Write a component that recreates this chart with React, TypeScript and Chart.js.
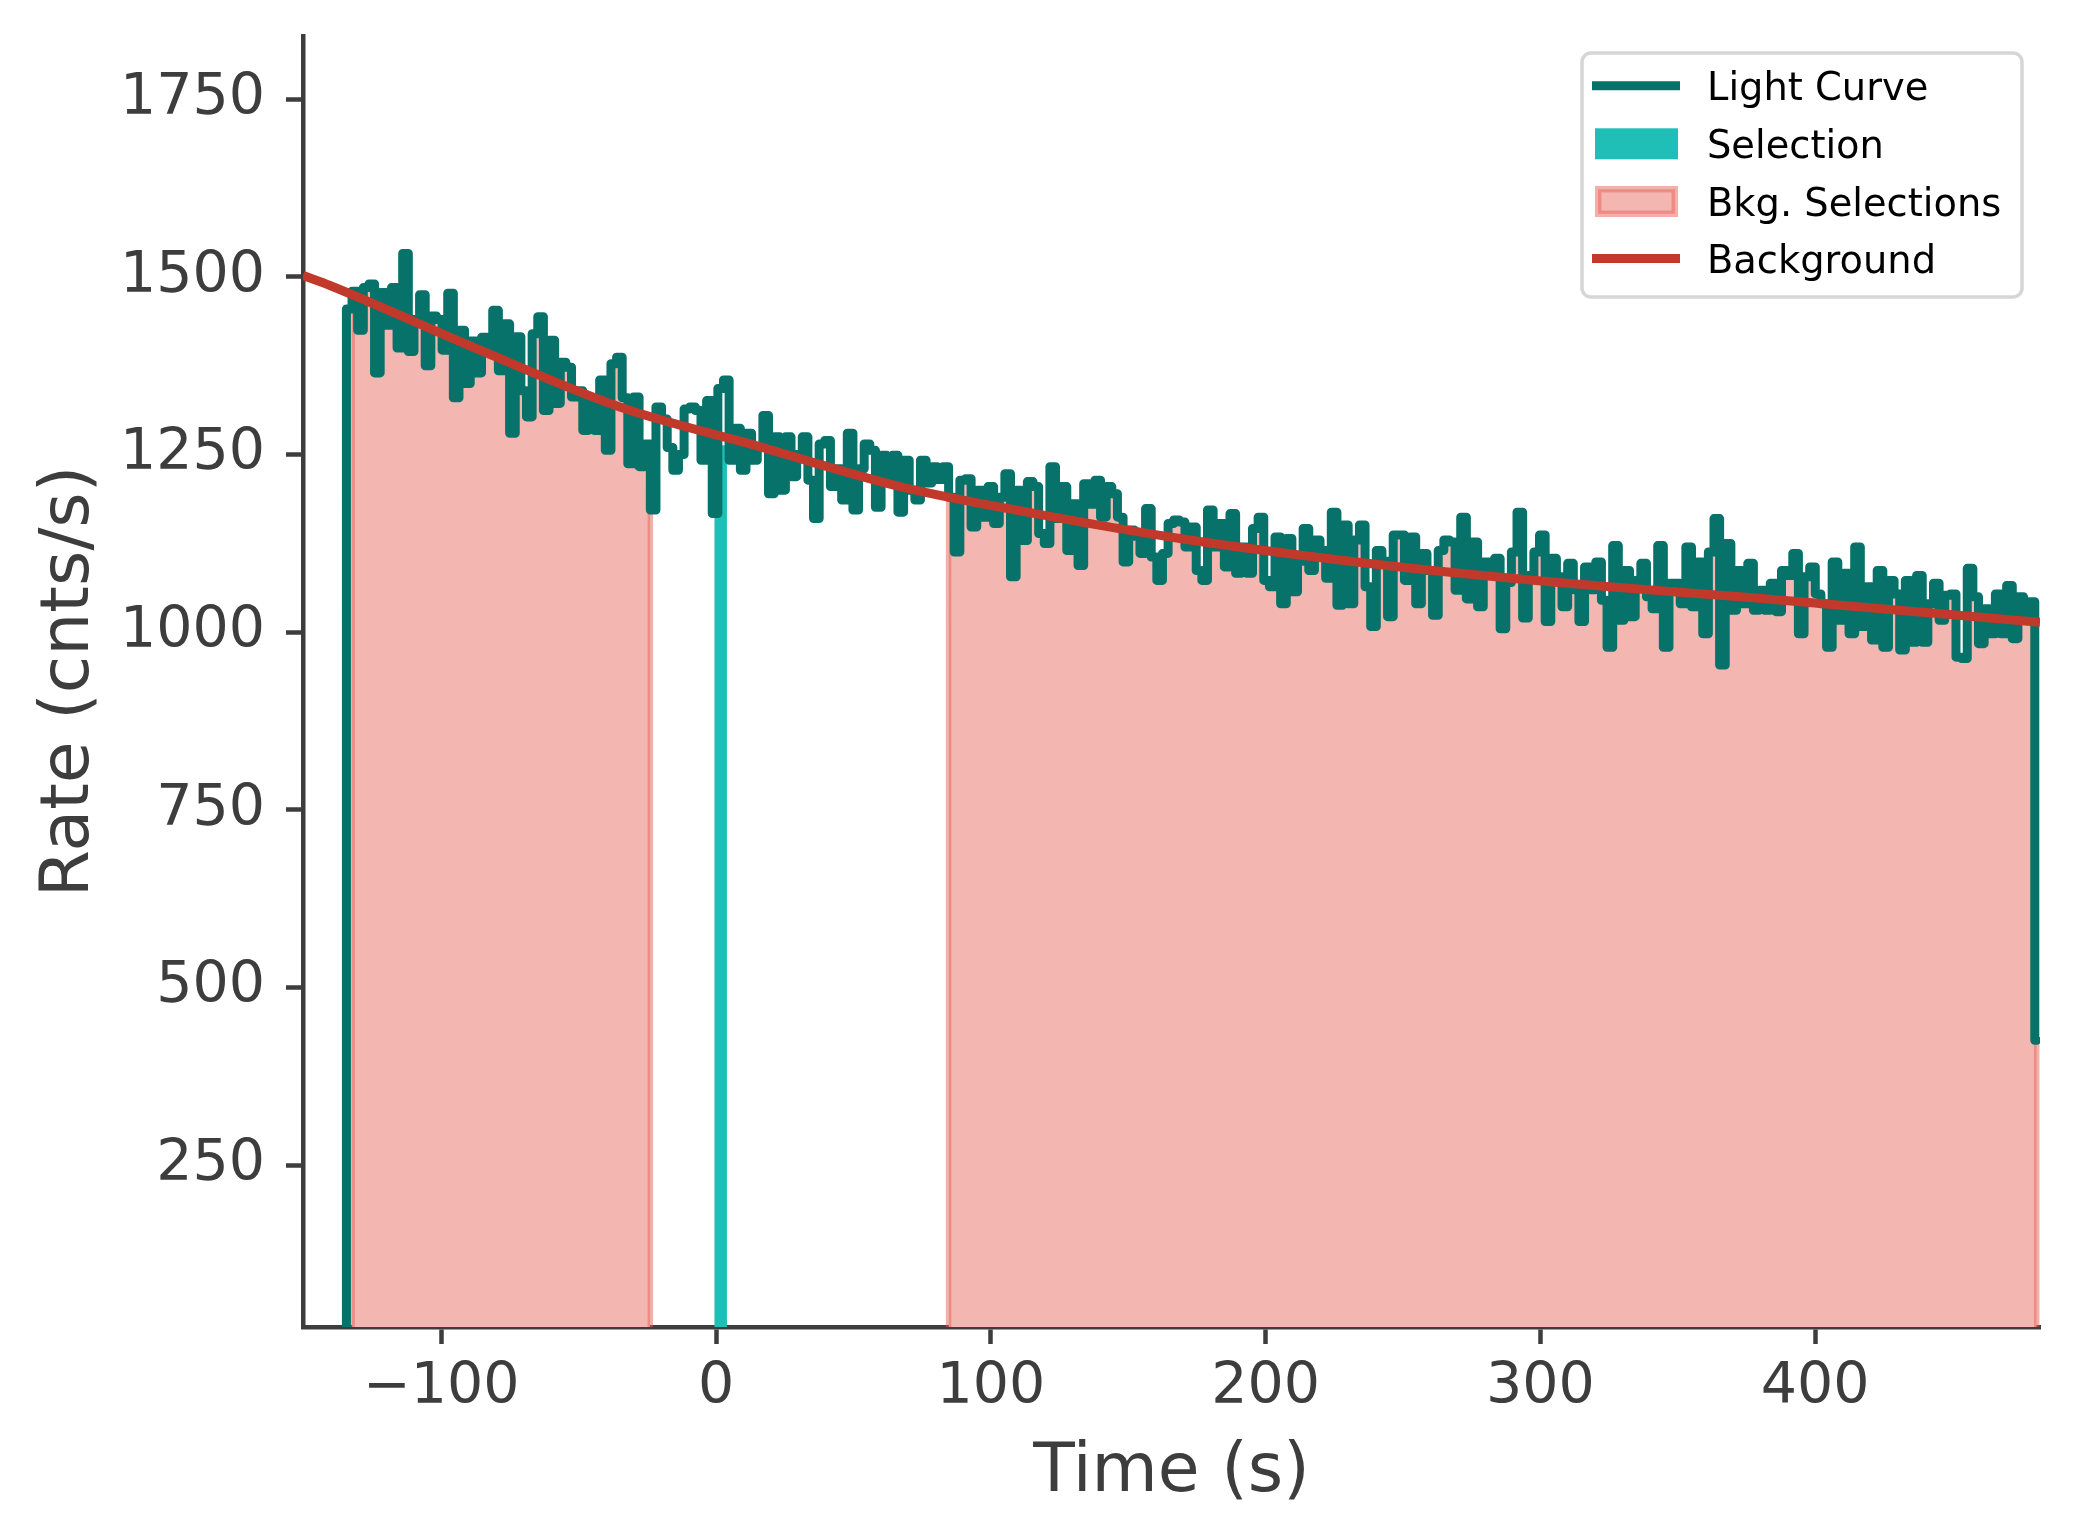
import React, { useEffect, useRef } from "react";
import { Chart, registerables } from "chart.js";

Chart.register(...registerables);

// ---------------- data ----------------
const LC_START = -134.5; // s, left edge of first bin
const BIN_WIDTH = 2.048; // s
const LC_END = 480.6; // s, right edge of last (partial) bin
const LC_FLOOR = 0; // histogram starts from zero

// count rate of each bin (cnts/s)
const LC_RATES = [
  1455, 1480, 1425, 1485, 1490, 1365, 1478, 1432, 1485, 1400,
  1533, 1395, 1440, 1475, 1375, 1445, 1440, 1397, 1477, 1330,
  1425, 1350, 1410, 1365, 1415, 1400, 1453, 1368, 1434, 1280,
  1416, 1340, 1303, 1420, 1444, 1312, 1411, 1322, 1380, 1373,
  1331, 1340, 1284, 1322, 1284, 1355, 1256, 1378, 1387, 1330,
  1237, 1331, 1233, 1265, 1172, 1317, 1300, 1260, 1228, 1250,
  1314, 1317, 1312, 1242, 1326, 1167, 1343, 1355, 1242, 1287,
  1228, 1280, 1242, 1260, 1305, 1195, 1275, 1200, 1275, 1219,
  1250, 1275, 1214, 1160, 1265, 1270, 1205, 1230, 1186, 1280,
  1172, 1230, 1265, 1256, 1176, 1249, 1215, 1249, 1169, 1242,
  1200, 1186, 1242, 1210, 1233, 1215, 1233, 1190, 1113, 1214,
  1216, 1148, 1200, 1162, 1205, 1153, 1190, 1223, 1078, 1200,
  1129, 1212, 1205, 1139, 1125, 1233, 1160, 1205, 1115, 1181,
  1094, 1209, 1180, 1214, 1162, 1205, 1195, 1162, 1099, 1144,
  1135, 1111, 1174, 1106, 1073, 1111, 1153, 1158, 1155, 1120,
  1148, 1087, 1073, 1172, 1120, 1153, 1092, 1167, 1083, 1120,
  1083, 1146, 1162, 1073, 1064, 1134, 1040, 1132, 1057, 1100,
  1146, 1087, 1130, 1115, 1076, 1169, 1038, 1151, 1040, 1130,
  1151, 1064, 1008, 1115, 1100, 1022, 1137, 1137, 1073, 1134,
  1040, 1111, 1087, 1024, 1115, 1130, 1127, 1059, 1162, 1047,
  1127, 1036, 1099, 1080, 1104, 1005, 1070, 1113, 1169, 1020,
  1080, 1113, 1137, 1015, 1104, 1078, 1036, 1097, 1060, 1015,
  1092, 1060, 1099, 1045, 979, 1122, 1017, 1087, 1022, 1073,
  1097, 1050, 1033, 1122, 979, 1069, 1069, 1040, 1120, 1036,
  1099, 998, 1113, 1160, 954, 1125, 1031, 1087, 1040, 1097,
  1031, 1059, 1031, 1069, 1029, 1087, 1080, 1111, 998, 1078,
  1092, 1054, 1040, 979, 1099, 1017, 1083, 998, 1120, 1008,
  1064, 989, 1087, 979, 1073, 1054, 975, 1073, 986, 1080,
  986, 1040, 1069, 1017, 1052, 1054, 965, 963, 1090, 1050,
  984, 1033, 998, 1054, 998, 1066, 991, 1050, 1024, 1043,
  426,
];

// source selection interval and its rate
const SEL_RANGE = [-0.3, 3.7];
const SEL_RATE = 1262;

// background selection intervals (s)
const BKG_RANGES = [
  [-132.46, -23.9],
  [84.6, 480.6],
];

// fitted background model
const BKG_MODEL_TIMES = [-150.3, -140.5, -87.7, -35, 14.2, 67, 116.1, 168.8, 218, 270.7, 321.7, 376.3, 427.2, 449, 481.8];
const BKG_MODEL_RATES = [1502, 1488, 1400, 1317, 1263, 1205, 1167, 1132, 1106, 1083, 1065, 1049, 1032, 1025, 1014];

// axes
const X_MIN = -150.3;
const X_MAX = 481.8;
const Y_MIN = 22.5;
const Y_MAX = 1839;
const X_TICKS = [-100, 0, 100, 200, 300, 400];
const Y_TICKS = [250, 500, 750, 1000, 1250, 1500, 1750];

const LEGEND_LABELS = ["Light Curve", "Selection", "Bkg. Selections", "Background"];

// ---------------- styles ----------------
const FONT = '"DejaVu Sans", sans-serif';
const AXIS_COLOR = "#3d3d3d";
const LC_COLOR = "#06726a";
const SEL_COLOR = "#1fbfb7";
const BKG_FILL = "#f4b6b1";
const BKG_EDGE = "rgba(232, 98, 88, 0.5)";
const MODEL_COLOR = "#c0392b";

// ---------------- derived tables ----------------
const lcEdges = LC_RATES.map((_, i) => LC_START + i * BIN_WIDTH);
const lcPoints = [
  { x: LC_START, y: LC_FLOOR },
  ...LC_RATES.map((v, i) => ({ x: lcEdges[i], y: v })),
  { x: LC_END, y: LC_RATES[LC_RATES.length - 1] },
];

const bkgDatasets = BKG_RANGES.map(([s, e], k) => {
  const idx = lcEdges.map((t, i) => i).filter((i) => lcEdges[i] >= s - 0.05 && lcEdges[i] < e - 0.05);
  const pts = [
    { x: lcEdges[idx[0]], y: LC_FLOOR },
    ...idx.map((i) => ({ x: lcEdges[i], y: LC_RATES[i] })),
    { x: e, y: LC_RATES[idx[idx.length - 1]] },
    { x: e, y: LC_FLOOR },
  ];
  return {
    label: "Bkg. Selections " + k,
    data: pts,
    stepped: "before" as const,
    borderColor: BKG_EDGE,
    borderWidth: 5.5,
    backgroundColor: BKG_FILL,
    fill: "origin",
    pointRadius: 0,
    clip: 0,
    order: 3 + k,
  };
});

const selPoints = [
  { x: SEL_RANGE[0], y: LC_FLOOR },
  { x: SEL_RANGE[0], y: SEL_RATE },
  { x: SEL_RANGE[1], y: SEL_RATE },
  { x: SEL_RANGE[1], y: LC_FLOOR },
];

const modelPoints = BKG_MODEL_TIMES.map((t, i) => ({ x: t, y: BKG_MODEL_RATES[i] }));

const fmtTick = (v: number) => (v < 0 ? "\u2212" + Math.abs(v) : String(v));

// legend drawn like matplotlib's framed legend
const legendPlugin = {
  id: "mplLegend",
  afterDraw(chart: any) {
    const { ctx, chartArea } = chart;
    const left = chartArea.right - 458;
    const top = chartArea.top + 17;
    const w = 440;
    const h = 244;
    ctx.save();
    ctx.beginPath();
    ctx.roundRect(left, top, w, h, 9);
    ctx.fillStyle = "rgba(255,255,255,0.85)";
    ctx.fill();
    ctx.lineWidth = 3.5;
    ctx.strokeStyle = "#d6d6d6";
    ctx.stroke();
    const rows = [32.7, 90.8, 148.5, 205.5];
    rows.forEach((r, k) => {
      const cy = top + r;
      if (k === 0 || k === 3) {
        ctx.beginPath();
        ctx.moveTo(left + 10, cy);
        ctx.lineTo(left + 98, cy);
        ctx.lineCap = "butt";
        ctx.lineWidth = 9;
        ctx.strokeStyle = k === 0 ? LC_COLOR : MODEL_COLOR;
        ctx.stroke();
      } else if (k === 1) {
        ctx.fillStyle = SEL_COLOR;
        ctx.fillRect(left + 13, cy - 15.5, 83, 31);
      } else {
        ctx.fillStyle = BKG_FILL;
        ctx.fillRect(left + 16, cy - 12.3, 77, 24.6);
        ctx.lineWidth = 6.4;
        ctx.strokeStyle = BKG_EDGE;
        ctx.strokeRect(left + 16.2, cy - 12.3, 76.6, 24.6);
      }
      ctx.fillStyle = "#000";
      ctx.font = "38.4px " + FONT;
      ctx.textAlign = "left";
      ctx.textBaseline = "alphabetic";
      ctx.fillText(LEGEND_LABELS[k], left + 125, cy + 14.2);
    });
    ctx.restore();
  },
};

export default function App() {
  const ref = useRef<HTMLCanvasElement>(null);

  useEffect(() => {
    if (!ref.current) return;
    const chart = new Chart(ref.current, {
      type: "line",
      data: {
        datasets: [
          {
            label: "Background",
            data: modelPoints,
            borderColor: MODEL_COLOR,
            borderWidth: 9,
            cubicInterpolationMode: "monotone",
            pointRadius: 0,
            fill: false,
            clip: 0,
            order: 0,
          } as any,
          {
            label: "Light Curve",
            data: lcPoints,
            stepped: "before",
            borderColor: LC_COLOR,
            borderWidth: 9,
            borderCapStyle: "round",
            borderJoinStyle: "round",
            pointRadius: 0,
            fill: false,
            clip: 0,
            order: 1,
          } as any,
          {
            label: "Selection",
            data: selPoints,
            stepped: "before",
            borderColor: SEL_COLOR,
            borderWidth: 1.5,
            backgroundColor: SEL_COLOR,
            fill: "origin",
            pointRadius: 0,
            clip: 0,
            order: 2,
          } as any,
          ...(bkgDatasets as any[]),
        ],
      },
      options: {
        animation: false,
        responsive: false,
        devicePixelRatio: 1,
        events: [],
        layout: { padding: { left: 0, top: 36, right: 34, bottom: 0 } },
        plugins: {
          legend: { display: false },
          tooltip: { enabled: false },
        },
        scales: {
          x: {
            type: "linear",
            min: X_MIN,
            max: X_MAX,
            bounds: "data",
            afterBuildTicks: (s: any) => {
              s.ticks = X_TICKS.map((v) => ({ value: v }));
            },
            afterFit: (s: any) => {
              s.height = 213;
              s.paddingLeft = 0;
              s.paddingRight = 0;
            },
            grid: {
              drawOnChartArea: false,
              drawTicks: true,
              tickLength: 17,
              tickWidth: 4.5,
              tickColor: AXIS_COLOR,
              color: AXIS_COLOR,
            },
            border: { display: true, color: AXIS_COLOR, width: 4.5 },
            ticks: {
              autoSkip: false,
              maxRotation: 0,
              minRotation: 0,
              padding: 10,
              color: AXIS_COLOR,
              font: { family: FONT, size: 57 },
              callback: (v: any) => fmtTick(Number(v)),
            },
            title: {
              display: true,
              text: "Time (s)",
              color: AXIS_COLOR,
              font: { family: FONT, size: 68 },
              padding: { top: 0, bottom: 26 },
            },
          },
          y: {
            type: "linear",
            min: Y_MIN,
            max: Y_MAX,
            bounds: "data",
            afterBuildTicks: (s: any) => {
              s.ticks = Y_TICKS.map((v) => ({ value: v }));
            },
            afterFit: (s: any) => {
              s.width = 303;
              s.paddingTop = 0;
              s.paddingBottom = 0;
            },
            grid: {
              drawOnChartArea: false,
              drawTicks: true,
              tickLength: 17,
              tickWidth: 4.5,
              tickColor: AXIS_COLOR,
              color: AXIS_COLOR,
            },
            border: { display: true, color: AXIS_COLOR, width: 4.5 },
            ticks: {
              autoSkip: false,
              padding: 21,
              color: AXIS_COLOR,
              font: { family: FONT, size: 57 },
              callback: (v: any) => fmtTick(Number(v)),
            },
            title: {
              display: true,
              text: "Rate (cnts/s)",
              color: AXIS_COLOR,
              font: { family: FONT, size: 68 },
              padding: { top: 30, bottom: 0 },
            },
          },
        },
      } as any,
      plugins: [legendPlugin],
    });
    return () => chart.destroy();
  }, []);

  return (
    <div style={{ position: "fixed", left: 0, top: 0, width: 2074, height: 1540, background: "#fff" }}>
      <canvas ref={ref} width={2074} height={1540} style={{ display: "block", width: 2074, height: 1540 }} />
    </div>
  );
}
